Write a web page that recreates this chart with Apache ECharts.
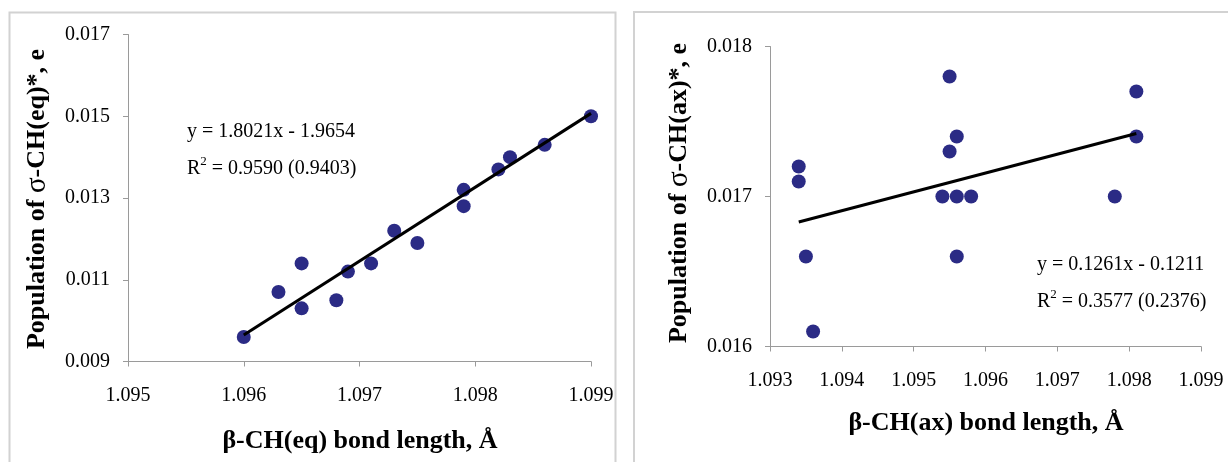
<!DOCTYPE html>
<html><head><meta charset="utf-8">
<script src="https://cdn.jsdelivr.net/npm/echarts@6/dist/echarts.min.js"></script>
<style>html,body{margin:0;padding:0;background:#fff}#c{width:1228px;height:462px}</style>
</head><body><div id="c"></div>
<script>
// ---- data ----
const eqX = [1.0960,1.0963,1.0965,1.0965,1.0968,1.0969,1.0971,1.0973,1.0975,1.0979,1.0979,1.0982,1.0983,1.0986,1.0990];
const eqY = [0.0096,0.0107,0.0114,0.0103,0.0105,0.0112,0.0114,0.0122,0.0119,0.0132,0.0128,0.0137,0.0140,0.0143,0.0150];
const eqFitX = [1.0960, 1.0990];
const eqFitY = [0.00965, 0.01507];
const axX = [1.0934,1.0934,1.0935,1.0936,1.0955,1.0955,1.0956,1.0954,1.0956,1.0958,1.0956,1.0978,1.0981,1.0981];
const axY = [0.0172,0.0171,0.0166,0.0161,0.0178,0.0173,0.0174,0.0170,0.0170,0.0170,0.0166,0.0170,0.0177,0.0174];
const axFitX = [1.0934, 1.0981];
const axFitY = [0.01683, 0.01742];
const eqXTicks = [1.095,1.096,1.097,1.098,1.099];
const eqYTicks = [0.009,0.011,0.013,0.015,0.017];
const axXTicks = [1.093,1.094,1.095,1.096,1.097,1.098,1.099];
const axYTicks = [0.016,0.017,0.018];
const eqTitles = ['β-CH(eq) bond length, Å', 'Population of ', 'σ', '-CH(eq)*, e'];
const axTitles = ['β-CH(ax) bond length, Å', 'Population of ', 'σ', '-CH(ax)*, e'];
const eqEquation = ['y = 1.8021x - 1.9654', 'R', '2', ' = 0.9590 (0.9403)'];
const axEquation = ['y = 0.1261x - 0.1211', 'R', '2', ' = 0.3577 (0.2376)'];

const pairs = (xs, ys) => xs.map((x, i) => [x, ys[i]]);
const FONT = '"Liberation Serif", "Times New Roman", serif';
const MARK = '#2b2b85';

function xAxis(gi, ticks) {
  return {
    type: 'value', gridIndex: gi, min: ticks[0], max: ticks[ticks.length - 1],
    interval: +(ticks[1] - ticks[0]).toFixed(6),
    axisLine: { lineStyle: { color: '#9a9a9a', width: 1 } },
    axisTick: { show: true, length: 5, lineStyle: { color: '#9a9a9a' } },
    splitLine: { show: false },
    axisLabel: { color: '#000', fontFamily: FONT, fontSize: 20, margin: 24,
      formatter: v => v.toFixed(3) }
  };
}
function yAxis(gi, ticks) {
  return {
    type: 'value', gridIndex: gi, min: ticks[0], max: ticks[ticks.length - 1],
    interval: +(ticks[1] - ticks[0]).toFixed(6),
    axisLine: { show: true, lineStyle: { color: '#9a9a9a', width: 1 } },
    axisTick: { show: true, length: 5, lineStyle: { color: '#9a9a9a' } },
    splitLine: { show: false },
    axisLabel: { color: '#000', fontFamily: FONT, fontSize: 20, margin: 18,
      formatter: v => v.toFixed(3) }
  };
}
function yTitle(x, y, t) {
  return { type: 'text', x: x, y: y, rotation: Math.PI / 2,
    style: { text: '{b|' + t[1] + '}{s|' + t[2] + '}{b|' + t[3] + '}',
      align: 'center', verticalAlign: 'middle',
      rich: { b: { fontFamily: FONT, fontWeight: 'bold', fontSize: 26, fill: '#000' },
              s: { fontFamily: FONT, fontWeight: 'normal', fontSize: 29, fill: '#000' } } } };
}
function xTitle(x, y, t) {
  return { type: 'text', x: x, y: y,
    style: { text: t[0], align: 'center', verticalAlign: 'middle',
      fontFamily: FONT, fontWeight: 'bold', fontSize: 26, fill: '#000' } };
}
function equation(x, y, e) {
  return [
    { type: 'text', x: x, y: y, style: { text: e[0], align: 'left', verticalAlign: 'middle',
      fontFamily: FONT, fontSize: 20, fill: '#000' } },
    { type: 'text', x: x, y: y + 37, style: { text: '{a|' + e[1] + '}{s|' + e[2] + '}{a|' + e[3] + '}',
      align: 'left', verticalAlign: 'middle',
      rich: { a: { fontFamily: FONT, fontSize: 20, fill: '#000' },
              s: { fontFamily: FONT, fontSize: 13, fill: '#000', padding: [0, 0, 14, 0] } } } }
  ];
}

const chart = echarts.init(document.getElementById('c'), null, { renderer: 'canvas' });
chart.setOption({
  animation: false,
  backgroundColor: '#fff',
  grid: [
    { left: 128, top: 34.5, width: 463, height: 327 },
    { left: 770, top: 46.5, width: 431, height: 300 }
  ],
  xAxis: [xAxis(0, eqXTicks), xAxis(1, axXTicks)],
  yAxis: [yAxis(0, eqYTicks), yAxis(1, axYTicks)],
  series: [
    { type: 'scatter', xAxisIndex: 0, yAxisIndex: 0, data: pairs(eqX, eqY), symbolSize: 14,
      itemStyle: { color: MARK, opacity: 1 }, z: 2 },
    { type: 'line', xAxisIndex: 0, yAxisIndex: 0, data: pairs(eqFitX, eqFitY), showSymbol: false,
      lineStyle: { color: '#000', width: 3 }, z: 3 },
    { type: 'scatter', xAxisIndex: 1, yAxisIndex: 1, data: pairs(axX, axY), symbolSize: 14,
      itemStyle: { color: MARK, opacity: 1 }, z: 2 },
    { type: 'line', xAxisIndex: 1, yAxisIndex: 1, data: pairs(axFitX, axFitY), showSymbol: false,
      lineStyle: { color: '#000', width: 3 }, z: 3 }
  ],
  graphic: [
    { type: 'rect', shape: { x: 9.5, y: 12.5, width: 606, height: 470 },
      style: { fill: 'none', stroke: '#d2d2d2', lineWidth: 2 } },
    { type: 'rect', shape: { x: 634, y: 12, width: 620, height: 470 },
      style: { fill: 'none', stroke: '#d2d2d2', lineWidth: 2 } },
    yTitle(37, 199, eqTitles),
    xTitle(360, 441, eqTitles),
    yTitle(679, 193, axTitles),
    xTitle(986, 423, axTitles),
    ...equation(187, 132, eqEquation),
    ...equation(1037, 265, axEquation)
  ]
});
</script></body></html>
